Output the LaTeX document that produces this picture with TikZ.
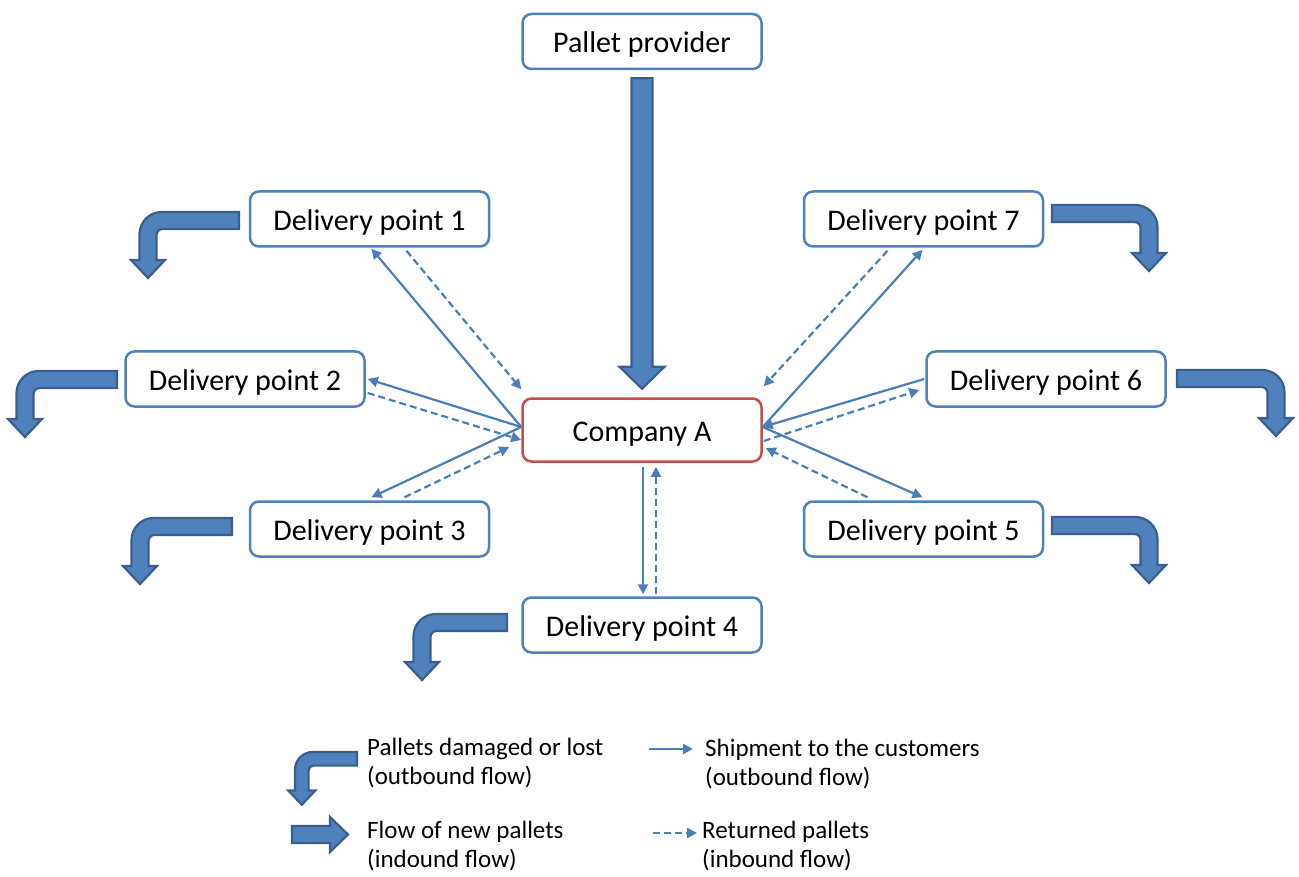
\documentclass[tikz,border=0pt]{standalone}
\usepackage{fontspec}
\setmainfont{Carlito}
\usetikzlibrary{arrows.meta,calc}
\definecolor{boxblue}{HTML}{4F81BD}
\definecolor{lineblue}{HTML}{4A7EBB}
\definecolor{boxred}{HTML}{C0504D}
\definecolor{arrfill}{HTML}{4F81BD}
\definecolor{arrdraw}{HTML}{3A5F8E}
\tikzset{
  box/.style={draw=boxblue, line width=2.5pt, rounded corners=9pt, fill=white,
    minimum width=239pt, minimum height=55pt, inner sep=0pt,
    text height=23pt, text depth=0pt,
    font=\fontsize{30}{36}\selectfont},
  redbox/.style={box, draw=boxred, minimum height=63pt},
  ship/.style={draw=lineblue, line width=2.2pt, -{Triangle[length=10pt,width=10pt]}},
  ret/.style={ship, dash pattern=on 7pt off 4pt},
  fatarrow/.style={fill=arrfill, draw=arrdraw, line width=2.2pt},
  legtext/.style={anchor=west, align=left, inner sep=0pt,
    font=\fontsize{25}{29}\selectfont}
}
\newcommand\bentarrow[5]{%
\begin{scope}[shift={(#1,#2)},xscale=#3,scale=#5]
\pgfmathsetmacro\xl{-#4-8.5}
\pgfmathsetmacro\xr{-#4+8.5}
\pgfmathsetmacro\xc{-#4}
\pgfmathsetmacro\xo{\xl+22}
\pgfmathsetmacro\xoc{\xl+10}
\pgfmathsetmacro\xi{\xr+6}
\pgfmathsetmacro\xic{\xr+2.7}
\draw[fatarrow] (0,0) -- (\xo,0) .. controls (\xoc,0) and (\xl,10) .. (\xl,22)
  -- (\xl,48) -- (\xc-17,48) -- (\xc,66) -- (\xc+17,48) -- (\xr,48) -- (\xr,23)
  .. controls (\xr,19.7) and (\xic,17) .. (\xi,17) -- (0,17) -- cycle;
\end{scope}}
\begin{document}
\begin{tikzpicture}[x=1pt,y=-1pt]
\useasboundingbox (0,0) rectangle (1299,877);
% nodes
\node[box] (pp) at (642,41.5) {Pallet provider};
\node[box] (dp1) at (369.5,219) {Delivery point 1};
\node[box] (dp7) at (923.5,219) {Delivery point 7};
\node[box] (dp2) at (245,379) {Delivery point 2};
\node[box] (dp6) at (1046,379) {Delivery point 6};
\node[redbox] (ca) at (642,430) {Company A};
\node[box] (dp3) at (369.5,529) {Delivery point 3};
\node[box] (dp5) at (923.5,529) {Delivery point 5};
\node[box] (dp4) at (642,625) {Delivery point 4};
% big inbound arrow
\draw[fatarrow] ($(pp.south)+(-10.5,8)$) -- ($(pp.south)+(10.5,8)$)
  -- ($(ca.north)+(10.5,-30.5)$) -- ($(ca.north)+(22.5,-30.5)$)
  -- ($(ca.north)+(0,-8.5)$) -- ($(ca.north)+(-22.5,-30.5)$)
  -- ($(ca.north)+(-10.5,-30.5)$) -- cycle;
% connectors left
\draw[ship] ($(ca.west)+(0,-3)$) -- ($(dp1.south)+(2,1)$);
\draw[ret] ($(dp1.south)+(37,3)$) -- ($(ca.north west)+(0,-8)$);
\draw[ship] ($(ca.west)+(0,-3)$) -- ($(dp2.east)+(2,0)$);
\draw[ret] ($(dp2.east)+(2,14)$) -- ($(ca.west)+(0,10)$);
\draw[ship] ($(ca.west)+(0,-3)$) -- ($(dp3.north)+(2,-3)$);
\draw[ret] ($(dp3.north)+(35,-3)$) -- ($(ca.west)+(-12,17)$);
% connectors right
\draw[ship] ($(ca.east)+(0,-3)$) -- ($(dp7.south)+(-1,2)$);
\draw[ret] ($(dp7.south)+(-36,3)$) -- ($(ca.north east)+(1,-11)$);
\draw[ship] ($(dp6.west)+(-1,0)$) -- ($(ca.east)+(0,-3)$);
\draw[ret] ($(ca.east)+(1,11)$) -- ($(dp6.west)+(-6,11)$);
\draw[ship] ($(ca.east)+(0,-3)$) -- ($(dp5.north)+(-1,-3)$);
\draw[ret] ($(dp5.north)+(-56,-3)$) -- ($(ca.east)+(3,18)$);
% connectors bottom
\draw[ship] ($(ca.south)+(1,4)$) -- ($(dp4.north)+(1,-2)$);
\draw[ret] ($(dp4.north)+(14,-2)$) -- ($(ca.south)+(14,4)$);
% bent arrows (damaged / lost)
\bentarrow{239}{212}{1}{91}{1}
\bentarrow{117}{371}{1}{92}{1}
\bentarrow{232}{518}{1}{92}{1}
\bentarrow{507}{614}{1}{85}{1}
\bentarrow{1052}{205}{-1}{97}{1}
\bentarrow{1177}{370}{-1}{99}{1}
\bentarrow{1052}{517}{-1}{97}{1}
% legend
\bentarrow{357}{752}{1}{69}{0.8}
\draw[fatarrow] (292,826) -- (330,826) -- (330,817) -- (348,834.5) -- (330,852)
  -- (330,843) -- (292,843) -- cycle;
\node[legtext] (l1) at (367,763) {Pallets damaged or lost\\(outbound flow)};
\node[legtext] (l2) at (367,846) {Flow of new pallets\\(indound flow)};
\coordinate (s1) at (649,749);
\coordinate (s2) at (693,749);
\draw[ship] (s1) -- (s2);
\node[legtext] (l3) at (705,764) {Shipment to the customers\\(outbound flow)};
\coordinate (r1) at (653,833);
\coordinate (r2) at (697,833);
\draw[ret] (r1) -- (r2);
\node[legtext] (l4) at (702,846) {Returned pallets\\(inbound flow)};
\end{tikzpicture}
\end{document}
